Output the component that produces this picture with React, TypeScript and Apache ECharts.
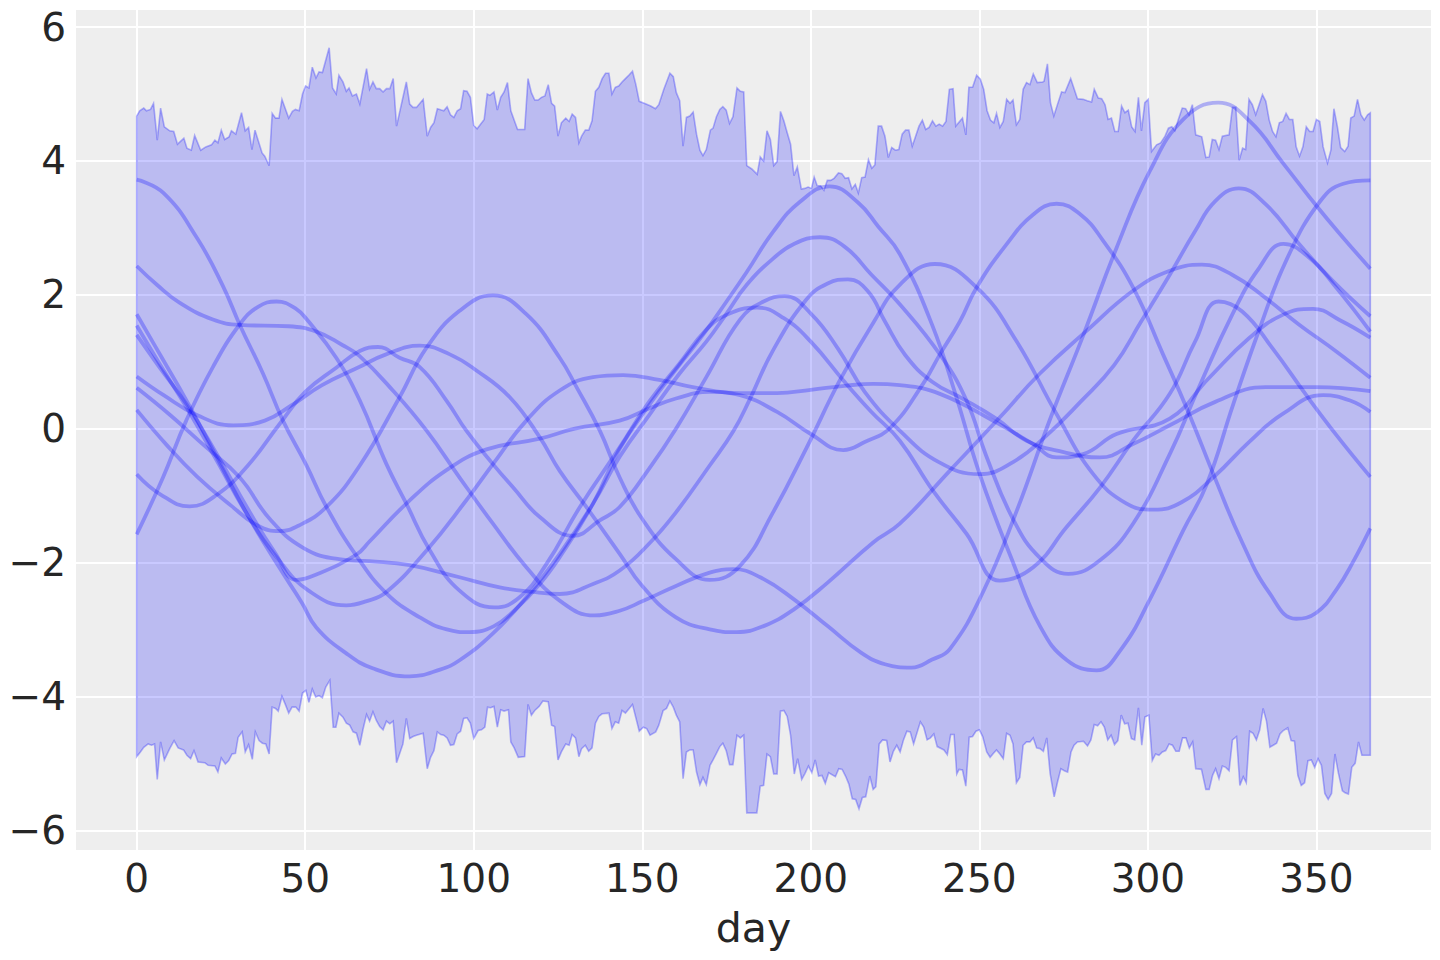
import React, { useEffect, useRef } from "react";
import * as echarts from "echarts";

// ---- HDI band: upper and lower edges, [day, value] ----
const hdiUpper: number[][] = [
  [0,4.67],[0.9,4.75],[2.1,4.79],[2.9,4.75],[4.1,4.77],[5,4.86],[6.1,4.31],[7.1,4.79],[8.2,4.51],[9.8,4.45],[11,4.44],[12.1,4.25],[14,4.34],[14.9,4.19],[16.2,4.16],[17.2,4.38],[19,4.16],[20.5,4.21],[22.2,4.24],[23.2,4.31],[24.1,4.27],[25.1,4.46],[26.1,4.32],[27.4,4.36],[28.1,4.45],[29.4,4.4],[31.1,4.72],[32.2,4.45],[33.2,4.5],[34.2,4.17],[35.1,4.46],[37.2,4.12],[38,4.07],[39.3,3.93],[40.2,4.71],[41.2,4.64],[42.2,4.64],[43.1,4.92],[45.1,4.64],[46.2,4.74],[47.1,4.77],[48.2,4.75],[49.2,5.0],[50.1,5.12],[51.1,5.09],[52.1,5.4],[53.2,5.24],[54.1,5.33],[55.1,5.32],[57.1,5.69],[58.1,5.09],[59.2,5.0],[60,5.28],[61.2,5.18],[62.2,5.04],[63,5.09],[64,4.97],[65.2,5.0],[66.2,4.85],[68.2,5.38],[69.1,5.07],[70.1,5.18],[71.1,5.08],[72.1,5.08],[73.1,5.03],[74.1,5.08],[75.1,5.08],[76.1,5.23],[77.1,4.52],[80,5.18],[81,4.85],[82,4.8],[83,4.8],[85,4.92],[86.2,4.37],[87.2,4.5],[88.2,4.57],[89.2,4.78],[90.4,4.76],[91.1,4.75],[92.1,4.81],[93.1,4.69],[94.1,4.65],[95.1,4.75],[96.1,4.78],[97,5.05],[98,5.04],[99,4.95],[100,4.53],[101,4.48],[103.1,4.62],[104,5.0],[104.8,4.98],[106,5.03],[107,4.76],[108,4.95],[109,5.03],[110,5.17],[111,4.75],[113,4.47],[115.1,4.47],[116.1,5.23],[117.1,5.02],[118.1,4.91],[119.1,4.91],[120.1,4.95],[121.1,4.97],[122.1,5.14],[123.1,4.86],[124,4.82],[125,4.37],[126,4.57],[127.3,4.64],[128.3,4.59],[129.2,4.7],[130.2,4.65],[131.2,4.27],[132,4.37],[133.1,4.46],[134.1,4.46],[135.1,4.6],[136.1,5.04],[137.1,5.1],[138.1,5.23],[139.1,5.31],[140.1,5.31],[141,5.0],[142,5.1],[143,5.12],[144,5.18],[145,5.23],[146,5.28],[147.1,5.34],[148.1,5.14],[149.1,4.89],[151.1,4.85],[152.5,4.82],[153.9,4.78],[154.9,4.84],[156.4,5.07],[158.2,5.31],[159.2,5.26],[160.1,5.02],[161.1,4.9],[162.1,4.22],[163.1,4.65],[164.1,4.67],[165.1,4.73],[166.1,4.4],[167.1,4.16],[168,4.08],[169,4.17],[170.2,4.46],[171,4.49],[172,4.66],[173,4.77],[173.9,4.81],[174.9,4.76],[175.9,4.56],[176.9,4.66],[178.1,5.09],[179.1,5.04],[180.1,5.03],[181,3.93],[182.5,3.88],[184.1,3.8],[185,4.06],[186,4.0],[187,4.45],[188,4.32],[189,3.93],[190,3.99],[191,4.74],[192,4.6],[193,4.42],[194,4.25],[195,3.78],[196,3.91],[197.2,3.58],[198.2,3.59],[199.2,3.61],[200.2,3.59],[201,3.76],[201.9,3.63],[202.9,3.63],[203.9,3.56],[204.9,3.71],[205.9,3.71],[206.9,3.74],[208.2,3.82],[209.2,3.81],[210.2,3.74],[211.2,3.75],[212.2,3.58],[213.2,3.65],[214.1,3.52],[215.1,3.75],[216.1,3.76],[217.1,4.02],[218.1,3.89],[219,3.94],[220,4.52],[221,4.52],[222,4.37],[223,4.05],[224,4.2],[225.1,4.16],[226.1,4.17],[227.1,4.4],[228.1,4.46],[229.1,4.46],[230.1,4.22],[231.1,4.37],[232.1,4.52],[233.1,4.61],[234.1,4.47],[235.1,4.5],[236.1,4.6],[237.1,4.52],[238.1,4.55],[239.1,4.52],[240.1,4.59],[241.1,5.07],[242.2,5.08],[243,4.52],[245,4.64],[246,4.39],[246.9,5.1],[248,5.1],[249.2,5.28],[250.3,5.22],[251.3,5.07],[252.3,4.75],[253.3,4.61],[254.3,4.57],[255.1,4.71],[256.1,4.5],[257.1,4.59],[258.1,4.92],[259.1,4.86],[260,4.91],[261,4.54],[262,4.62],[263,5.07],[264,5.17],[265,5.14],[266,5.3],[267.2,5.17],[268.8,5.18],[269.2,5.19],[270.2,5.45],[271.1,4.87],[272.1,4.67],[273.1,4.83],[274.4,5.03],[275.4,5.02],[277.1,5.23],[279.1,4.93],[280.8,4.92],[282,4.9],[283.3,4.88],[284.1,5.07],[285.3,4.94],[286.3,4.93],[287.3,4.84],[288.2,4.62],[289.2,4.64],[290.2,4.44],[291.2,4.44],[292.2,4.82],[293.2,4.72],[294.2,4.76],[295.2,4.51],[296.2,4.44],[297.2,4.95],[298.1,4.45],[299.1,4.87],[300.1,4.92],[301.1,4.14],[302.6,4.24],[303.8,4.27],[305.1,4.37],[306.1,4.49],[307.1,4.51],[308,4.45],[309,4.61],[310.2,4.79],[311.2,4.78],[312.2,4.69],[313.2,4.84],[314.2,4.39],[316,4.36],[317.2,4.05],[318.2,4.06],[319.1,4.32],[320.1,4.31],[321.1,4.17],[322.1,4.37],[324.1,4.39],[325.1,4.8],[326.1,4.8],[327.1,4.01],[328.1,4.19],[329,4.17],[330,4.92],[331,4.84],[332,4.69],[333,4.84],[334,4.99],[335,4.89],[336,4.61],[337,4.44],[338,4.36],[339,4.57],[340,4.59],[341,4.71],[342,4.62],[343,4.62],[344,4.21],[345,4.07],[346,4.21],[347,4.51],[348,4.44],[349,4.44],[350,4.62],[351,4.59],[352,4.21],[353.3,3.97],[354.3,4.16],[355.2,4.78],[356.2,4.52],[357.2,4.2],[358.4,4.14],[359.4,4.22],[360.2,4.64],[361.2,4.67],[362.2,4.92],[363.2,4.69],[364.2,4.61],[365.2,4.69],[366,4.72]
];

const hdiLower: number[][] = [
  [0,-4.9],[1.1,-4.83],[2.1,-4.76],[3.4,-4.71],[4.4,-4.73],[5.3,-4.71],[6.1,-5.24],[7.1,-4.68],[8.2,-4.95],[9.8,-4.78],[11.1,-4.66],[12.3,-4.77],[13.9,-4.8],[14.9,-4.88],[16,-4.93],[17,-4.81],[18.2,-4.98],[20.2,-4.99],[21.2,-5.03],[23.2,-5.04],[24.1,-5.13],[25.1,-4.92],[26.3,-5.01],[27.3,-4.96],[28.3,-4.86],[29.3,-4.85],[30.1,-4.61],[31.3,-4.53],[32.2,-4.83],[33.2,-4.72],[34.3,-4.94],[35.2,-4.53],[36.3,-4.66],[37.3,-4.7],[38.3,-4.71],[39.3,-4.86],[40.2,-4.16],[41.2,-4.18],[42,-4.22],[43.1,-4.0],[44.1,-4.12],[45.1,-4.25],[46.1,-4.16],[47.2,-4.16],[48.2,-4.22],[49.2,-3.95],[50.2,-3.91],[51.1,-4.09],[52.1,-3.89],[53.1,-4.01],[54.1,-3.99],[55.1,-4.02],[56.1,-3.86],[57.3,-3.76],[58.3,-4.46],[59.1,-4.46],[60,-4.25],[61.2,-4.31],[62.2,-4.4],[63.2,-4.43],[64.2,-4.53],[65.2,-4.55],[66.2,-4.73],[67.2,-4.48],[68.2,-4.27],[69.1,-4.37],[70.1,-4.23],[71.1,-4.36],[72.1,-4.45],[73.1,-4.5],[74.1,-4.37],[75.1,-4.41],[76.1,-4.37],[77.1,-4.99],[79,-4.71],[80,-4.33],[81,-4.63],[82,-4.6],[83,-4.58],[85,-4.55],[86.2,-5.08],[87.2,-4.91],[88.2,-4.81],[89.2,-4.53],[90.2,-4.57],[91.1,-4.58],[92.1,-4.62],[93.1,-4.73],[94.1,-4.72],[95.1,-4.56],[96.1,-4.52],[97,-4.33],[98,-4.32],[99,-4.4],[100,-4.63],[101.3,-4.51],[102.3,-4.5],[103.3,-4.46],[104.1,-4.16],[105,-4.17],[106,-4.15],[107,-4.46],[108,-4.2],[109,-4.22],[110.3,-4.2],[111,-4.68],[112,-4.77],[113.2,-4.91],[115.1,-4.9],[116.1,-4.12],[117.1,-4.28],[118.1,-4.21],[119.4,-4.15],[120.5,-4.07],[122.1,-4.08],[123.1,-4.43],[124,-4.45],[125,-4.95],[126,-4.83],[127.3,-4.71],[128.3,-4.73],[129.2,-4.57],[130.2,-4.62],[131.2,-4.9],[132,-4.78],[133.1,-4.73],[134.1,-4.82],[135.1,-4.77],[136.1,-4.4],[137.1,-4.3],[138.1,-4.26],[140.1,-4.25],[141,-4.48],[142,-4.38],[143,-4.4],[144,-4.21],[145,-4.25],[146,-4.19],[147.1,-4.12],[148.1,-4.32],[149.1,-4.52],[150.3,-4.46],[151.3,-4.48],[152.3,-4.58],[154,-4.53],[154.9,-4.43],[156.2,-4.21],[157.2,-4.18],[158.2,-4.07],[159.2,-4.16],[160.1,-4.28],[161.1,-4.38],[162.1,-5.23],[163.1,-4.83],[164.1,-4.8],[165.1,-4.8],[166.1,-5.13],[167.1,-5.32],[168,-5.21],[169,-5.32],[170.1,-5.03],[171,-4.95],[172,-4.85],[173,-4.75],[173.9,-4.7],[174.9,-4.81],[175.9,-5.02],[176.9,-5.02],[178.1,-4.58],[179.1,-4.62],[180.1,-4.58],[181,-5.74],[184,-5.74],[185,-5.34],[186,-5.33],[187,-4.86],[188,-4.9],[189,-5.16],[190,-5.16],[191,-4.22],[192,-4.21],[193,-4.3],[194,-4.58],[195.1,-5.16],[196.1,-4.93],[197.3,-5.24],[198.3,-5.15],[199.3,-5.04],[200.3,-5.14],[201.3,-4.95],[202.3,-5.19],[203.3,-5.18],[204.3,-5.3],[205.3,-5.14],[207.3,-5.2],[208.3,-5.08],[209.3,-5.09],[210.3,-5.19],[211.3,-5.31],[212.3,-5.53],[213.3,-5.54],[214.3,-5.68],[215.3,-5.51],[216.3,-5.5],[217.5,-5.19],[218.5,-5.39],[219.3,-5.35],[220.3,-4.71],[221.3,-4.65],[222.5,-4.66],[223.5,-4.98],[224.5,-4.82],[225.5,-4.73],[226.5,-4.83],[227.5,-4.65],[228.5,-4.52],[229.5,-4.53],[230.5,-4.71],[232.5,-4.38],[233.5,-4.46],[234.5,-4.65],[235.5,-4.62],[236.5,-4.56],[237.5,-4.75],[239.5,-4.8],[240.5,-4.87],[241.5,-4.57],[242.5,-4.57],[243.3,-5.16],[244,-5.09],[245,-5.1],[246,-5.34],[247,-4.61],[248,-4.6],[249,-4.52],[250,-4.5],[251,-4.6],[252.2,-4.83],[253.2,-4.91],[254.2,-4.85],[255.1,-4.8],[256.1,-4.86],[257.1,-4.93],[258.1,-4.55],[259.1,-4.58],[260,-4.71],[261,-5.29],[262,-5.21],[263,-4.73],[264,-4.68],[265,-4.68],[266,-4.62],[267,-4.77],[268,-4.78],[269,-4.82],[270,-4.62],[271,-5.15],[272.2,-5.5],[273.2,-5.28],[274.2,-5.08],[275.2,-5.11],[276.2,-5.13],[277.2,-4.83],[278.1,-4.73],[279.1,-4.68],[280.9,-4.67],[282.1,-4.74],[283.1,-4.65],[284.1,-4.42],[285.1,-4.44],[286.1,-4.38],[287.1,-4.46],[288.1,-4.65],[289.1,-4.58],[290.1,-4.72],[291.1,-4.66],[292.1,-4.28],[293.1,-4.41],[294.1,-4.4],[295.1,-4.63],[296.1,-4.65],[297.2,-4.17],[298.2,-4.73],[299.1,-4.31],[300.3,-4.28],[301.3,-4.96],[302.3,-4.86],[303.3,-4.88],[304.3,-4.83],[305.3,-4.81],[306.3,-4.71],[307.3,-4.73],[308.3,-4.82],[309.3,-4.82],[310.3,-4.62],[311.3,-4.62],[312.3,-4.77],[313.3,-4.68],[314.2,-5.08],[315.9,-5.09],[317.2,-5.39],[318.2,-5.39],[319.2,-5.18],[320.1,-5.08],[321.1,-5.23],[322.1,-5.04],[323.1,-5.06],[324.1,-5.11],[325.1,-4.65],[326.3,-4.6],[327.3,-5.33],[328.3,-5.2],[329.2,-5.29],[330.2,-4.52],[331.2,-4.55],[332.2,-4.65],[333.2,-4.5],[334.2,-4.18],[335.2,-4.37],[336.2,-4.76],[337.2,-4.73],[338.2,-4.7],[339.2,-4.56],[340.2,-4.51],[341.5,-4.47],[342.5,-4.66],[343.5,-4.67],[344.5,-5.18],[345.5,-5.33],[346.5,-5.29],[347.5,-4.96],[348.5,-4.95],[349.5,-5.06],[350.5,-4.93],[351.5,-5.03],[352.5,-5.45],[353.5,-5.54],[354.5,-5.45],[355.5,-4.86],[356.5,-5.14],[357.7,-5.41],[358.5,-5.44],[359.5,-5.46],[360.5,-5.06],[361.5,-5.0],[362.5,-4.68],[363.5,-4.88],[366,-4.88]
];

// ---- posterior sample curves, [day, value] ----
const sampleA: number[][] = [[0,3.72],[8,3.52],[18,2.84],[25.6,2.13],[30.6,1.55],[37.5,0.82],[43.4,0.12],[50.3,-0.54],[56.3,-1.17],[65.2,-1.9],[74.1,-2.46],[84,-2.82],[92,-3.0],[98.8,-3.04],[106,-2.95],[112,-2.72],[119.6,-2.32],[125.5,-1.92],[135.4,-1.12],[143.3,-0.3],[152,0.35],[161,0.95],[168,1.4],[175,1.9],[181,2.34],[188.8,2.94],[196.8,3.39],[205.6,3.62],[214,3.38],[220,3.02],[226.4,2.61],[236,1.55],[243.2,0.47],[250.1,-0.68],[260,-2.0],[268,-2.95],[276,-3.46],[284.8,-3.61],[292,-3.3],[300.6,-2.55],[310.5,-1.52],[317.4,-0.84],[325.3,0.36],[333.2,1.5],[341.2,2.53],[351,3.39],[358,3.66],[366,3.71]];
const sampleB: number[][] = [[0,2.43],[6,2.15],[12.8,1.88],[22.6,1.63],[30.6,1.55],[45,1.53],[53.3,1.45],[61,1.25],[66,1.09],[76,0.57],[86,-0.03],[95.8,-0.73],[105.7,-1.42],[115.6,-2.07],[125.5,-2.57],[135.9,-2.79],[143.3,-2.72],[150,-2.58],[160,-2.35],[170,-2.15],[177,-2.1],[185,-2.22],[195,-2.55],[205,-2.95],[215,-3.35],[222,-3.52],[229.9,-3.57],[236,-3.45],[241.3,-3.29],[251.1,-2.44],[261,-1.24],[270.9,0.13],[280.8,1.39],[290.7,2.7],[300.6,3.85],[310.5,4.62],[320.9,4.87],[330.3,4.59],[340.2,3.96],[350,3.33],[358,2.85],[366,2.39]];
const sampleC: number[][] = [[0,1.71],[7,1.1],[15,0.4],[24,-0.45],[33,-1.3],[42,-2.05],[49,-2.6],[53.3,-2.97],[62,-3.35],[70,-3.58],[81,-3.7],[90,-3.6],[95.8,-3.46],[105.7,-3.06],[115.6,-2.52],[125.5,-1.87],[135.4,-1.12],[143.3,-0.42],[152,0.2],[161,0.82],[169,1.3],[175,1.72],[181,2.15],[188.8,2.54],[195,2.76],[202.7,2.86],[210,2.72],[218,2.3],[226.4,1.86],[238.3,1.11],[246.2,0.42],[252,-0.4],[260,-1.35],[268,-1.93],[276.4,-2.17],[285.7,-1.97],[295.6,-1.42],[306.5,-0.38],[315,0.6],[325,1.7],[333,2.4],[340.2,2.76],[348,2.55],[356,2.1],[366,1.45]];
const sampleD: number[][] = [[0,1.54],[7,0.95],[15,0.3],[24,-0.5],[33,-1.3],[42,-1.95],[51,-2.42],[62.2,-2.64],[68,-2.58],[74.1,-2.44],[86,-1.82],[97.8,-1.07],[105.7,-0.53],[115.6,0.12],[125.5,0.57],[135.4,0.77],[144.3,0.8],[155,0.73],[165,0.62],[179,0.53],[190,0.53],[200,0.58],[210,0.64],[218.5,0.67],[226.4,0.65],[238.3,0.52],[255.1,0.09],[266,-0.23],[272.9,-0.43],[280.8,-0.38],[290.7,-0.08],[306.5,0.15],[318,0.75],[330,1.35],[340,1.7],[349,1.79],[357,1.62],[366,1.36]];
const sampleE: number[][] = [[0,1.4],[7,0.9],[15,0.35],[24,-0.4],[33,-1.2],[41,-1.85],[47.5,-2.26],[53.3,-2.18],[65.2,-1.88],[69,-1.69],[80,-1.12],[91.9,-0.62],[103.8,-0.31],[119.6,-0.15],[130,0.0],[143.3,0.12],[152,0.3],[160,0.45],[170,0.55],[179,0.5],[190,0.25],[200,-0.08],[209.6,-0.32],[216,-0.2],[223.5,0.01],[233.3,0.67],[238.3,1.11],[244.2,1.6],[249.2,2.11],[258,2.75],[266,3.2],[272.9,3.36],[280,3.2],[286.7,2.81],[295.6,2.11],[304.5,1.11],[312,0.25],[320,-0.75],[328,-1.7],[336,-2.45],[344,-2.84],[350,-2.75],[356,-2.4],[361,-1.98],[366,-1.49]];
const sampleF: number[][] = [[0,0.78],[8,0.5],[18,0.2],[28.6,0.05],[38,0.12],[46,0.35],[55,0.65],[66,0.92],[74,1.11],[84,1.24],[92.9,1.11],[100.8,0.87],[110.7,0.47],[119.6,-0.13],[125.5,-0.63],[133.4,-1.17],[143.3,-1.87],[150,-2.35],[160,-2.82],[170,-3.0],[178,-3.04],[186,-2.95],[195,-2.7],[205,-2.3],[218.5,-1.7],[226.4,-1.42],[241.2,-0.63],[256.1,0.17],[267.9,0.82],[281.8,1.46],[295.6,2.06],[306.5,2.36],[316,2.45],[325,2.3],[335,1.95],[345,1.55],[356,1.15],[366,0.76]];
const sampleG: number[][] = [[0,0.61],[10,0.2],[20,-0.25],[30.6,-0.73],[39.5,-1.35],[49.4,-1.78],[60,-1.95],[69,-1.98],[81,-2.04],[95.8,-2.22],[107.7,-2.37],[117.6,-2.44],[125.5,-2.47],[135.4,-2.32],[143.3,-2.12],[152,-1.72],[160,-1.25],[170,-0.55],[177,-0.04],[182,0.45],[188.8,1.17],[198.7,1.93],[205,2.17],[211,2.23],[217,2.05],[222,1.6],[228,1.1],[236,0.7],[245,0.45],[255,0.15],[264,-0.18],[275,-0.35],[285.8,-0.43],[295.6,-0.23],[306.5,0.05],[320,0.4],[335,0.62],[350,0.62],[366,0.56]];
const sampleH: number[][] = [[0,0.28],[9,-0.25],[18,-0.72],[28,-1.15],[36,-1.45],[42.4,-1.53],[48,-1.45],[56.3,-1.17],[66.2,-0.55],[78,0.47],[86,1.21],[95.8,1.76],[105.7,1.99],[115.6,1.71],[125.5,1.06],[130.5,0.62],[137.4,-0.03],[143.3,-0.73],[150,-1.35],[160,-1.95],[170,-2.26],[179,-2.05],[188.8,-1.25],[198.7,-0.29],[208.6,0.72],[218.5,1.58],[226.4,2.15],[236.8,2.46],[249.2,2.11],[261,1.31],[272.9,0.22],[283.8,-0.68],[293.7,-1.12],[301.6,-1.21],[310,-1.1],[320,-0.7],[330,-0.2],[340,0.22],[352,0.5],[360,0.42],[366,0.25]];
const sampleI: number[][] = [[0,-0.68],[7,-0.98],[15.7,-1.16],[24,-0.98],[33,-0.55],[42.4,0.07],[50,0.55],[59.2,0.91],[66.2,1.16],[71.6,1.22],[78,1.06],[84,0.92],[91.9,0.42],[97.8,-0.03],[105.7,-0.53],[111.7,-0.88],[119.6,-1.32],[129.5,-1.6],[137.4,-1.37],[143.3,-1.17],[152,-0.6],[160,0.0],[169,0.77],[179,1.63],[186,1.9],[192.3,1.98],[200,1.72],[208,1.2],[216,0.55],[226.4,-0.03],[238,-0.5],[250.1,-0.68],[260,-0.5],[270,-0.1],[280,0.4],[290,0.95],[298,1.6],[306.5,2.3],[314,2.95],[320,3.4],[327,3.59],[335,3.35],[345,2.75],[355,2.2],[366,1.68]];
const sampleJ: number[][] = [[0,-1.58],[7.8,-0.73],[14.7,0.12],[22.6,0.92],[30.6,1.56],[36,1.82],[41.5,1.9],[47,1.8],[51,1.6],[59.2,1.06],[66.2,0.42],[74.1,-0.53],[80,-1.12],[87,-1.82],[95.8,-2.42],[106.2,-2.67],[113.6,-2.52],[121.6,-2.02],[131.5,-1.17],[143.3,-0.28],[152,0.4],[161,0.97],[169,1.48],[175,1.7],[184,1.81],[192,1.65],[200,1.3],[210,0.7],[218,0.25],[226.4,-0.18],[236.3,-0.93],[246.2,-1.57],[256.1,-2.27],[266,-2.07],[275.9,-1.47],[285.8,-0.88],[295.6,-0.18],[306.5,0.52],[314,1.3],[321,1.9],[328,1.75],[337,1.2],[347,0.5],[356,-0.1],[366,-0.72]];

const samples = [sampleA, sampleB, sampleC, sampleD, sampleE, sampleF, sampleG, sampleH, sampleI, sampleJ];

const xTicks = [0, 50, 100, 150, 200, 250, 300, 350];
const yTicks = [-6, -4, -2, 0, 2, 4, 6];

const TEXT = "#262626";
const FONT = "DejaVu Sans";

export default function App() {
  const ref = useRef<HTMLDivElement>(null);

  useEffect(() => {
    if (!ref.current) return;
    const chart = echarts.init(ref.current, null, { renderer: "svg" });

    const bandSeries = {
      type: "custom",
      coordinateSystem: "cartesian2d",
      silent: true,
      z: 2,
      data: [[0, 0]],
      renderItem: (_params: any, api: any) => {
        const pts: number[][] = [];
        for (let i = 0; i < hdiUpper.length; i++) pts.push(api.coord(hdiUpper[i]));
        for (let i = hdiLower.length - 1; i >= 0; i--) pts.push(api.coord(hdiLower[i]));
        return {
          type: "polygon",
          shape: { points: pts },
          style: {
            fill: "rgba(0,0,255,0.21)",
            stroke: "rgba(0,0,255,0.28)",
            lineWidth: 1.6,
          },
        };
      },
    };

    const lineSeries = samples.map((d) => ({
      type: "line",
      data: d,
      showSymbol: false,
      symbol: "none",
      smooth: 0.45,
      silent: true,
      z: 3,
      lineStyle: { color: "rgba(0,0,255,0.27)", width: 3.8 },
    }));

    const minusFmt = (v: number) => {
      if (!yTicks.includes(Math.round(v * 1000) / 1000)) return "";
      return v < 0 ? "\u2212" + Math.abs(v) : String(v);
    };
    const xFmt = (v: number) => (xTicks.includes(Math.round(v * 1000) / 1000) ? String(v) : "");

    chart.setOption({
      animation: false,
      backgroundColor: "#ffffff",
      grid: {
        left: 75,
        top: 9,
        width: 1357,
        height: 842,
        show: true,
        backgroundColor: "#eeeeee",
        borderWidth: 0,
      },
      xAxis: {
        type: "value",
        min: -18.3,
        max: 384.3,
        splitNumber: 8,
        name: "day",
        nameLocation: "middle",
        nameGap: 56,
        nameTextStyle: { fontSize: 41, color: TEXT, fontFamily: FONT },
        axisLine: { show: false },
        axisTick: { show: false },
        axisLabel: { fontSize: 39, color: TEXT, fontFamily: FONT, margin: 8, formatter: xFmt },
        splitLine: { show: true, lineStyle: { color: "#ffffff", width: 2 } },
      },
      yAxis: {
        type: "value",
        min: -6.31,
        max: 6.27,
        splitNumber: 6,
        axisLine: { show: false },
        axisTick: { show: false },
        axisLabel: { fontSize: 39, color: TEXT, fontFamily: FONT, margin: 9, formatter: minusFmt },
        splitLine: { show: true, lineStyle: { color: "#ffffff", width: 2 } },
      },
      series: [bandSeries, ...lineSeries],
    });

    return () => chart.dispose();
  }, []);

  return (
    <div
      ref={ref}
      style={{ position: "fixed", left: 0, top: 0, width: 1440, height: 960, background: "#ffffff" }}
    />
  );
}
